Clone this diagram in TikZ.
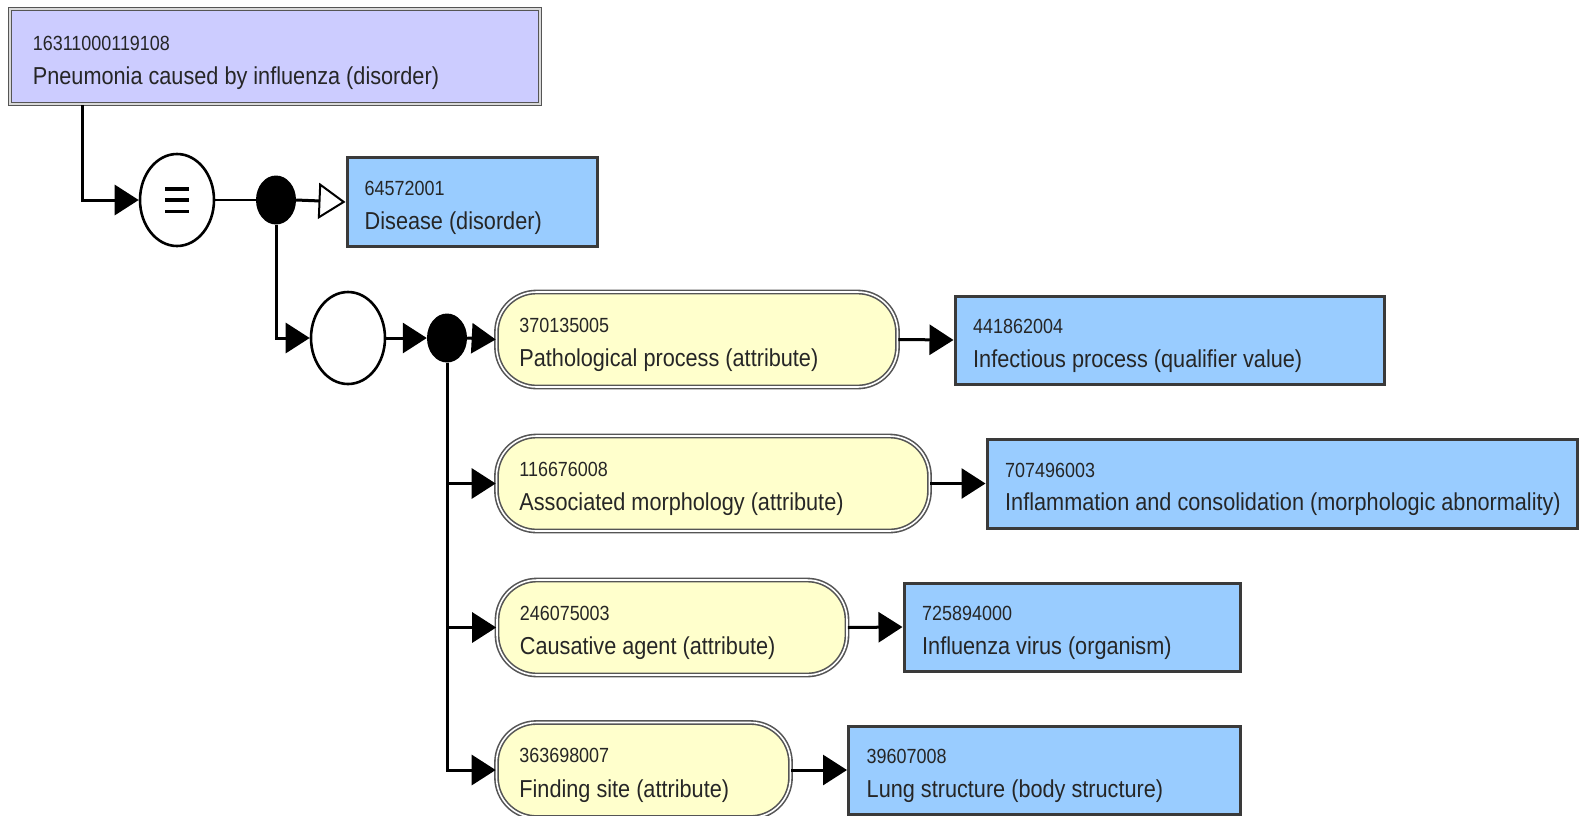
\documentclass[tikz,border=0pt]{standalone}
\usepackage{fontspec}
\setmainfont{Liberation Sans}
\newfontfamily\numfont[FakeStretch=0.875]{Liberation Sans}
\newfontfamily\labfont[FakeStretch=0.885]{Liberation Sans}
\usetikzlibrary{shapes.geometric,arrows.meta,calc}
\definecolor{lav}{HTML}{CCCCFF}
\definecolor{skyb}{HTML}{99CCFF}
\definecolor{ylw}{HTML}{FFFFCC}
\definecolor{bord}{HTML}{3A3A3A}
\definecolor{dbl}{HTML}{555555}
\tikzset{
  x=1pt, y=1pt,
  conbox/.style={rectangle, draw=bord, line width=3pt, fill=skyb, inner sep=0pt},
  topbox/.style={rectangle, draw=dbl, double=white!85!black, double distance=1.6pt, line width=1.6pt, fill=lav, inner sep=0pt},
  attrbox/.style={rectangle, rounded corners=40pt, draw=dbl, double=white, double distance=1.6pt, line width=1.6pt, fill=ylw, inner sep=0pt, minimum height=95pt},
  opnode/.style={ellipse, draw=black, line width=2.6pt, fill=white, minimum width=74pt, minimum height=92pt, inner sep=0pt},
  dotnode/.style={ellipse, fill=black, minimum width=40pt, minimum height=49pt, inner sep=0pt},
  numtxt/.style={anchor=base west, inner sep=0pt, font=\numfont\fontsize{20.5}{24}\selectfont, text=black!85},
  labtxt/.style={anchor=base west, inner sep=0pt, font=\labfont\fontsize{24.5}{29}\selectfont, text=black!85},
  conn/.style={line width=3pt, draw=black},
  arr/.style={conn, -{Triangle[length=24pt,width=30pt]}},
  openarr/.style={conn, -{Triangle[open,fill=white,length=27pt,width=36pt,line width=2pt]}},
}
\begin{document}
\begin{tikzpicture}
\useasboundingbox (0,0) rectangle (1589,-815);
% nodes
\node[topbox, minimum width=530pt, minimum height=95pt] (top) at (275,-56.5) {};
\node[numtxt] (topn) at ($(top.west)+(23.5,6.5)$) {16311000119108};
\node[labtxt] (topl) at ($(top.west)+(23.5,-27.5)$) {Pneumonia caused by influenza (disorder)};

\node[opnode] (eq) at (177,-200) {};
\draw[line width=3.5pt] ($(eq.center)+(-12,11)$) -- ++(24,0);
\draw[line width=3.5pt] ($(eq.center)+(-12,0)$) -- ++(24,0);
\draw[line width=3.5pt] ($(eq.center)+(-12,-11.5)$) -- ++(24,0);
\node[dotnode] (d1) at (276,-200) {};
\node[conbox, minimum width=250pt, minimum height=89pt] (dis) at (472,-202) {};
\node[numtxt] (disn) at ($(dis.west)+(19,6.5)$) {64572001};
\node[labtxt] (disl) at ($(dis.west)+(19,-27)$) {Disease (disorder)};

\node[opnode] (c2) at (348,-338) {};
\node[dotnode] (d2) at (447,-338) {};

% attribute rows
\node[attrbox, minimum width=401pt] (y1) at (697,-339.5) {};
\node[numtxt] (y1n) at ($(y1.west)+(23.5,7.5)$) {370135005};
\node[labtxt] (y1l) at ($(y1.west)+(23.5,-27)$) {Pathological process (attribute)};
\node[conbox, minimum width=429pt, minimum height=88pt] (b1) at (1169.5,-340) {};
\node[numtxt] (b1n) at ($(b1.west)+(19.5,6.5)$) {441862004};
\node[labtxt] (b1l) at ($(b1.west)+(19.5,-27)$) {Infectious process (qualifier value)};

\node[attrbox, minimum width=433pt] (y2) at (713,-483.5) {};
\node[numtxt] (y2n) at ($(y2.west)+(23.5,7.5)$) {116676008};
\node[labtxt] (y2l) at ($(y2.west)+(23.5,-27)$) {Associated morphology (attribute)};
\node[conbox, minimum width=590pt, minimum height=89pt] (b2) at (1282,-483.5) {};
\node[numtxt] (b2n) at ($(b2.west)+(19.5,6.5)$) {707496003};
\node[labtxt] (b2l) at ($(b2.west)+(19.5,-27)$) {Inflammation and consolidation (morphologic abnormality)};

\node[attrbox, minimum width=350pt] (y3) at (672,-627.5) {};
\node[numtxt] (y3n) at ($(y3.west)+(23.5,7.5)$) {246075003};
\node[labtxt] (y3l) at ($(y3.west)+(23.5,-27)$) {Causative agent (attribute)};
\node[conbox, minimum width=336pt, minimum height=88pt] (b3) at (1072,-627) {};
\node[numtxt] (b3n) at ($(b3.west)+(19.5,6.5)$) {725894000};
\node[labtxt] (b3l) at ($(b3.west)+(19.5,-27)$) {Influenza virus (organism)};

\node[attrbox, minimum width=294pt] (y4) at (643.5,-770) {};
\node[numtxt] (y4n) at ($(y4.west)+(23.5,7.5)$) {363698007};
\node[labtxt] (y4l) at ($(y4.west)+(23.5,-27)$) {Finding site (attribute)};
\node[conbox, minimum width=392pt, minimum height=88pt] (b4) at (1044.5,-770) {};
\node[numtxt] (b4n) at ($(b4.west)+(19.5,6.5)$) {39607008};
\node[labtxt] (b4l) at ($(b4.west)+(19.5,-27)$) {Lung structure (body structure)};

% connectors
\draw[arr] ([xshift=73pt]top.south west) |- (eq.west);
\draw[conn, line width=2.5pt] (eq.east) -- (d1.west);
\draw[openarr] (d1.east) -- (dis.west);
\draw[arr] (d1.south) |- (c2.west);
\draw[arr] (c2.east) -- (d2.west);
\draw[arr] (d2.east) -- (y1.west);
\draw[arr] (d2.south) |- (y2.west);
\draw[arr] (d2.south) |- (y3.west);
\draw[arr] (d2.south) |- (y4.west);
\draw[arr] (y1.east) -- (b1.west);
\draw[arr] (y2.east) -- (b2.west);
\draw[arr] (y3.east) -- (b3.west);
\draw[arr] (y4.east) -- (b4.west);
\end{tikzpicture}
\end{document}
